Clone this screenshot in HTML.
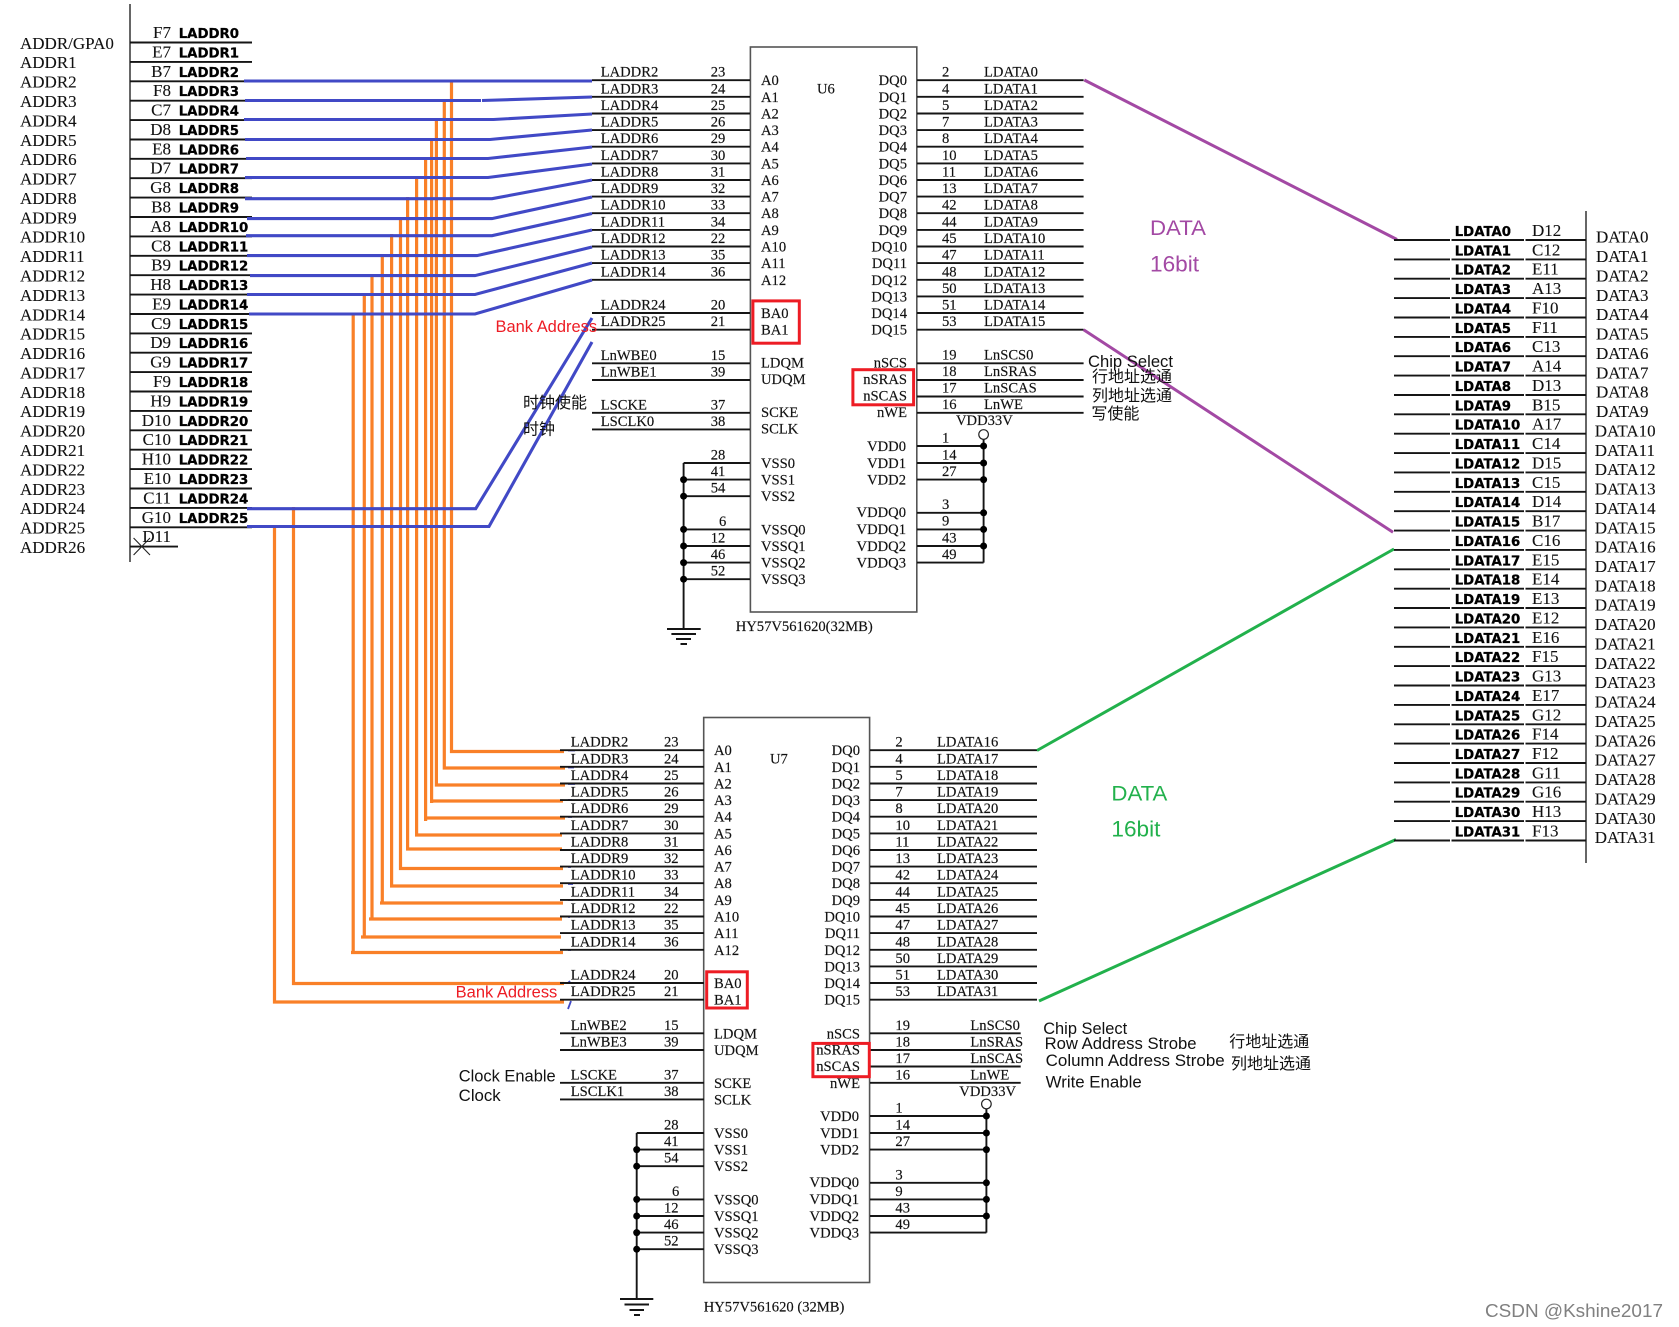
<!DOCTYPE html>
<html><head><meta charset="utf-8"><title>SDRAM schematic</title>
<style>
html,body{margin:0;padding:0;background:#fff}
svg{display:block}
text{fill:#111;white-space:pre}
.s text,text.s{font:14.6px "Liberation Serif",serif;stroke:#111;stroke-width:.15}
.p text{font:17px "Liberation Serif",serif;stroke:#111;stroke-width:.1}
.e text{text-anchor:end}
.b text{font:bold 13.3px "DejaVu Sans",sans-serif;fill:#000;stroke:#000;stroke-width:.3}
.a{font-family:"Liberation Sans","Noto Sans CJK SC",sans-serif}
.c{font-family:"Noto Sans CJK SC",sans-serif;font-size:16px}
.k{fill:none;stroke:#151515;stroke-width:1.9}
</style></head><body>
<svg xmlns="http://www.w3.org/2000/svg" width="1679" height="1327" viewBox="0 0 1679 1327">
<rect width="1679" height="1327" fill="#fff"/>

<!-- left connector -->
<path d="M130 4V562" fill="none" stroke="#555" stroke-width="1.8"/>
<path class="k" d="M130 42.5H252M130 61.9H252M130 81.3H252M130 100.7H252M130 120.1H252M130 139.5H252M130 158.8H252M130 178.2H252M130 197.6H252M130 217H252M130 236.4H252M130 255.8H252M130 275.2H252M130 294.6H252M130 314H252M130 333.4H252M130 352.7H252M130 372.1H252M130 391.5H252M130 410.9H252M130 430.3H252M130 449.7H252M130 469.1H252M130 488.5H252M130 507.9H252M130 527.3H252M130 546.6H178"/>
<path d="M133.6 538L150 555M133.6 555L150 538" fill="none" stroke="#222" stroke-width="1.1"/>
<g class="p">
<text x="20" y="48.8">ADDR/GPA0</text><text x="20" y="68.2">ADDR1</text><text x="20" y="87.6">ADDR2</text><text x="20" y="107">ADDR3</text><text x="20" y="126.4">ADDR4</text><text x="20" y="145.8">ADDR5</text><text x="20" y="165.1">ADDR6</text><text x="20" y="184.5">ADDR7</text><text x="20" y="203.9">ADDR8</text><text x="20" y="223.3">ADDR9</text><text x="20" y="242.7">ADDR10</text><text x="20" y="262.1">ADDR11</text><text x="20" y="281.5">ADDR12</text><text x="20" y="300.9">ADDR13</text><text x="20" y="320.3">ADDR14</text><text x="20" y="339.7">ADDR15</text><text x="20" y="359">ADDR16</text><text x="20" y="378.4">ADDR17</text><text x="20" y="397.8">ADDR18</text><text x="20" y="417.2">ADDR19</text><text x="20" y="436.6">ADDR20</text><text x="20" y="456">ADDR21</text><text x="20" y="475.4">ADDR22</text><text x="20" y="494.8">ADDR23</text><text x="20" y="514.2">ADDR24</text><text x="20" y="533.6">ADDR25</text><text x="20" y="552.9">ADDR26</text>
</g>
<g class="p e">
<text x="171" y="38">F7</text><text x="171" y="57.4">E7</text><text x="171" y="76.8">B7</text><text x="171" y="96.2">F8</text><text x="171" y="115.6">C7</text><text x="171" y="135">D8</text><text x="171" y="154.3">E8</text><text x="171" y="173.7">D7</text><text x="171" y="193.1">G8</text><text x="171" y="212.5">B8</text><text x="171" y="231.9">A8</text><text x="171" y="251.3">C8</text><text x="171" y="270.7">B9</text><text x="171" y="290.1">H8</text><text x="171" y="309.5">E9</text><text x="171" y="328.9">C9</text><text x="171" y="348.2">D9</text><text x="171" y="367.6">G9</text><text x="171" y="387">F9</text><text x="171" y="406.4">H9</text><text x="171" y="425.8">D10</text><text x="171" y="445.2">C10</text><text x="171" y="464.6">H10</text><text x="171" y="484">E10</text><text x="171" y="503.4">C11</text><text x="171" y="522.8">G10</text><text x="171" y="542.1">D11</text>
</g>
<g class="b">
<text x="178.7" y="38">LADDR0</text><text x="178.7" y="57.4">LADDR1</text><text x="178.7" y="76.8">LADDR2</text><text x="178.7" y="96.2">LADDR3</text><text x="178.7" y="115.6">LADDR4</text><text x="178.7" y="135">LADDR5</text><text x="178.7" y="154.3">LADDR6</text><text x="178.7" y="173.7">LADDR7</text><text x="178.7" y="193.1">LADDR8</text><text x="178.7" y="212.5">LADDR9</text><text x="178.7" y="231.9">LADDR10</text><text x="178.7" y="251.3">LADDR11</text><text x="178.7" y="270.7">LADDR12</text><text x="178.7" y="290.1">LADDR13</text><text x="178.7" y="309.5">LADDR14</text><text x="178.7" y="328.9">LADDR15</text><text x="178.7" y="348.2">LADDR16</text><text x="178.7" y="367.6">LADDR17</text><text x="178.7" y="387">LADDR18</text><text x="178.7" y="406.4">LADDR19</text><text x="178.7" y="425.8">LADDR20</text><text x="178.7" y="445.2">LADDR21</text><text x="178.7" y="464.6">LADDR22</text><text x="178.7" y="484">LADDR23</text><text x="178.7" y="503.4">LADDR24</text><text x="178.7" y="522.8">LADDR25</text>
</g>

<!-- orange bus -->
<path fill="none" stroke="#f98028" stroke-width="3.2" d="M451.5 80V751.5H564M444.3 99V768H565M436.4 118.5V785H565M431.6 138V803M431.6 801H563M425.6 157V821M425.6 818H565M416.6 176V835H562M407.6 197V849H562M400.5 217V868.5H563M391.6 234V886H563M382.3 254V903H563M382.3 903H380M372 274V919H562M372 919H369M364.3 293V937H561M364.3 937H361M353.2 312.5V952.5H563M353.2 952.5H351M293.5 507V983.5H564M274.5 526V1002H564"/>

<!-- blue bus -->
<path fill="none" stroke="#4149c6" stroke-width="3.1" d="M244 81H592M245 100.5H481M482 100.5L592 97M244 119.5H493.5L592 114M245 139.5H490L592 130M246 158.5H488L592 147M245 177.5H488L592 164M245 198.7H492L592 180M247 218.6H492L592 197M246 235.7H492L592 213.5M247 255.6H477L592 230M250 275.6H475L592 247M247 294.5H475L592 263M249 314H475L592 280M247 508.7H475.7L592 318M247 526.5H489L592 342"/>
<path fill="none" stroke="#4149c6" stroke-width="1.8" d="M568 750.5H575M568 767.5H574M568 784H575M568 800H572M568 817H572M568 850H574M568 867H571M568 884H573M568 900H573M568 917H570M568 950H571M568 983L570 981M568 1009L571 1001"/>

<!-- U6 -->
<rect x="750.4" y="47" width="166.4" height="565" fill="none" stroke="#555" stroke-width="1.6"/>
<path class="k" d="M592 80.2H750M592 96.8H750M592 113.5H750M592 130.1H750M592 146.7H750M592 163.4H750M592 180H750M592 196.6H750M592 213.2H750M592 229.9H750M592 246.5H750M592 263.1H750M592 279.8H750M592 313H750M592 329.7H750M592 363.3H750M592 380H750M592 412.8H750M592 429.4H750M683.6 463H750M683.6 479.6H750M683.6 496.2H750M683.6 529.4H750M683.6 546H750M683.6 562.6H750M683.6 579.2H750M917 80.2H1083.6M917 96.8H1083.6M917 113.5H1083.6M917 130.1H1083.6M917 146.7H1083.6M917 163.4H1083.6M917 180H1083.6M917 196.6H1083.6M917 213.2H1083.6M917 229.9H1083.6M917 246.5H1083.6M917 263.1H1083.6M917 279.8H1083.6M917 296.4H1083.6M917 313H1083.6M917 329.7H1083.6M917 363.3H1083.6M917 380H1083.6M917 396.5H1083.6M917 412.8H1083.6M917 446H983.6M917 463H983.6M917 479.6H983.6M917 512.8H983.6M917 529.4H983.6M917 546H983.6M917 562.6H983.6M983.6 439.5V562.6M683.6 463V629M667 629H700.7M671.4 634H696M676 639H691M680.5 644H687"/>
<circle cx="983.6" cy="434.5" r="4.8" fill="#fff" stroke="#222" stroke-width="1.2"/>
<g fill="#000"><circle cx="983.6" cy="446" r="3.5"/><circle cx="983.6" cy="463" r="3.5"/><circle cx="983.6" cy="479.6" r="3.5"/><circle cx="983.6" cy="512.8" r="3.5"/><circle cx="983.6" cy="529.4" r="3.5"/><circle cx="983.6" cy="546" r="3.5"/><circle cx="683.6" cy="479.6" r="3.5"/><circle cx="683.6" cy="496.2" r="3.5"/><circle cx="683.6" cy="529.4" r="3.5"/><circle cx="683.6" cy="546" r="3.5"/><circle cx="683.6" cy="562.6" r="3.5"/><circle cx="683.6" cy="579.2" r="3.5"/></g>
<g class="s">
<text x="600.7" y="76.7">LADDR2</text><text x="600.7" y="93.3">LADDR3</text><text x="600.7" y="110">LADDR4</text><text x="600.7" y="126.6">LADDR5</text><text x="600.7" y="143.2">LADDR6</text><text x="600.7" y="159.9">LADDR7</text><text x="600.7" y="176.5">LADDR8</text><text x="600.7" y="193.1">LADDR9</text><text x="600.7" y="209.7">LADDR10</text><text x="600.7" y="226.4">LADDR11</text><text x="600.7" y="243">LADDR12</text><text x="600.7" y="259.6">LADDR13</text><text x="600.7" y="276.3">LADDR14</text><text x="600.7" y="309.5">LADDR24</text><text x="600.7" y="326.2">LADDR25</text><text x="600.7" y="359.8">LnWBE0</text><text x="600.7" y="376.5">LnWBE1</text><text x="600.7" y="409.3">LSCKE</text><text x="600.7" y="425.9">LSCLK0</text>
<text x="710.7" y="76.7">23</text><text x="710.7" y="93.3">24</text><text x="710.7" y="110">25</text><text x="710.7" y="126.6">26</text><text x="710.7" y="143.2">29</text><text x="710.7" y="159.9">30</text><text x="710.7" y="176.5">31</text><text x="710.7" y="193.1">32</text><text x="710.7" y="209.7">33</text><text x="710.7" y="226.4">34</text><text x="710.7" y="243">22</text><text x="710.7" y="259.6">35</text><text x="710.7" y="276.3">36</text><text x="710.7" y="309.5">20</text><text x="710.7" y="326.2">21</text><text x="710.7" y="359.8">15</text><text x="710.7" y="376.5">39</text><text x="710.7" y="409.3">37</text><text x="710.7" y="425.9">38</text><text x="710.7" y="459.5">28</text><text x="710.7" y="476.1">41</text><text x="710.7" y="492.7">54</text><text x="719" y="525.9">6</text><text x="710.7" y="542.5">12</text><text x="710.7" y="559.1">46</text><text x="710.7" y="575.7">52</text>
<text x="761" y="85.2">A0</text><text x="761" y="101.8">A1</text><text x="761" y="118.5">A2</text><text x="761" y="135.1">A3</text><text x="761" y="151.7">A4</text><text x="761" y="168.4">A5</text><text x="761" y="185">A6</text><text x="761" y="201.6">A7</text><text x="761" y="218.2">A8</text><text x="761" y="234.9">A9</text><text x="761" y="251.5">A10</text><text x="761" y="268.1">A11</text><text x="761" y="284.8">A12</text><text x="761" y="318">BA0</text><text x="761" y="334.7">BA1</text><text x="761" y="367.3">LDQM</text><text x="761" y="384">UDQM</text><text x="761" y="416.8">SCKE</text><text x="761" y="433.4">SCLK</text><text x="761" y="468">VSS0</text><text x="761" y="484.6">VSS1</text><text x="761" y="501.2">VSS2</text><text x="761" y="534.4">VSSQ0</text><text x="761" y="551">VSSQ1</text><text x="761" y="567.6">VSSQ2</text><text x="761" y="584.2">VSSQ3</text>
<text x="817" y="93.3">U6</text>
<text x="735.7" y="631">HY57V561620(32MB)</text>
<text x="942" y="76.7">2</text><text x="942" y="93.3">4</text><text x="942" y="110">5</text><text x="942" y="126.6">7</text><text x="942" y="143.2">8</text><text x="942" y="159.9">10</text><text x="942" y="176.5">11</text><text x="942" y="193.1">13</text><text x="942" y="209.7">42</text><text x="942" y="226.4">44</text><text x="942" y="243">45</text><text x="942" y="259.6">47</text><text x="942" y="276.3">48</text><text x="942" y="292.9">50</text><text x="942" y="309.5">51</text><text x="942" y="326.2">53</text><text x="942" y="359.3">19</text><text x="942" y="376">18</text><text x="942" y="392.5">17</text><text x="942" y="408.8">16</text><text x="942" y="442.5">1</text><text x="942" y="459.5">14</text><text x="942" y="476.1">27</text><text x="942" y="508.8">3</text><text x="942" y="525.4">9</text><text x="942" y="542.5">43</text><text x="942" y="559.1">49</text>
<text x="984" y="76.7">LDATA0</text><text x="984" y="93.3">LDATA1</text><text x="984" y="110">LDATA2</text><text x="984" y="126.6">LDATA3</text><text x="984" y="143.2">LDATA4</text><text x="984" y="159.9">LDATA5</text><text x="984" y="176.5">LDATA6</text><text x="984" y="193.1">LDATA7</text><text x="984" y="209.7">LDATA8</text><text x="984" y="226.4">LDATA9</text><text x="984" y="243">LDATA10</text><text x="984" y="259.6">LDATA11</text><text x="984" y="276.3">LDATA12</text><text x="984" y="292.9">LDATA13</text><text x="984" y="309.5">LDATA14</text><text x="984" y="326.2">LDATA15</text><text x="984" y="359.3">LnSCS0</text><text x="984" y="376">LnSRAS</text><text x="984" y="392.5">LnSCAS</text><text x="984" y="408.8">LnWE</text>
<text x="956" y="425">VDD33V</text>
</g>
<g class="s e">
<text x="907" y="85.2">DQ0</text><text x="907" y="101.8">DQ1</text><text x="907" y="118.5">DQ2</text><text x="907" y="135.1">DQ3</text><text x="907" y="151.7">DQ4</text><text x="907" y="168.4">DQ5</text><text x="907" y="185">DQ6</text><text x="907" y="201.6">DQ7</text><text x="907" y="218.2">DQ8</text><text x="907" y="234.9">DQ9</text><text x="907" y="251.5">DQ10</text><text x="907" y="268.1">DQ11</text><text x="907" y="284.8">DQ12</text><text x="907" y="301.4">DQ13</text><text x="907" y="318">DQ14</text><text x="907" y="334.7">DQ15</text><text x="907" y="367.3">nSCS</text><text x="907" y="384">nSRAS</text><text x="907" y="400.5">nSCAS</text><text x="907" y="416.8">nWE</text><text x="906" y="451">VDD0</text><text x="906" y="468">VDD1</text><text x="906" y="484.6">VDD2</text><text x="906" y="516.8">VDDQ0</text><text x="906" y="533.8">VDDQ1</text><text x="906" y="551">VDDQ2</text><text x="906" y="567.6">VDDQ3</text>
</g>
<rect x="752.9" y="300.9" width="46.4" height="42.3" fill="none" stroke="#ed1c24" stroke-width="3"/>
<rect x="852.9" y="369.7" width="60.7" height="35.1" fill="none" stroke="#ed1c24" stroke-width="3"/>

<!-- U7 -->
<rect x="703.7" y="717.5" width="165.9" height="565" fill="none" stroke="#555" stroke-width="1.6"/>
<path class="k" d="M560 750.2H704M560 766.8H704M560 783.5H704M560 800.1H704M560 816.7H704M560 833.4H704M560 850H704M560 866.6H704M560 883.2H704M560 899.9H704M560 916.5H704M560 933.1H704M560 949.8H704M560 983H704M560 999.7H704M560 1033.3H704M560 1050H704M560 1082.8H704M560 1099.4H704M636.7 1133H704M636.7 1149.6H704M636.7 1166.2H704M636.7 1199.4H704M636.7 1216H704M636.7 1232.6H704M636.7 1249.2H704M870 750.2H1037M870 766.8H1037M870 783.5H1037M870 800.1H1037M870 816.7H1037M870 833.4H1037M870 850H1037M870 866.6H1037M870 883.2H1037M870 899.9H1037M870 916.5H1037M870 933.1H1037M870 949.8H1037M870 966.4H1037M870 983H1037M870 999.7H1037M870 1033.3H1020.7M870 1050H1020.7M870 1066.5H1020.7M870 1082.8H1020.7M870 1116H986.4M870 1133H986.4M870 1149.6H986.4M870 1182.8H986.4M870 1199.4H986.4M870 1216H986.4M870 1232.6H986.4M986.4 1109V1232.6M636.7 1133V1299M620 1299H653.3M624.5 1304.5H649M629.5 1310H644M634 1315H640"/>
<circle cx="986.4" cy="1104" r="4.8" fill="#fff" stroke="#222" stroke-width="1.2"/>
<g fill="#000"><circle cx="986.4" cy="1116" r="3.5"/><circle cx="986.4" cy="1133" r="3.5"/><circle cx="986.4" cy="1149.6" r="3.5"/><circle cx="986.4" cy="1182.8" r="3.5"/><circle cx="986.4" cy="1199.4" r="3.5"/><circle cx="986.4" cy="1216" r="3.5"/><circle cx="636.7" cy="1149.6" r="3.5"/><circle cx="636.7" cy="1166.2" r="3.5"/><circle cx="636.7" cy="1199.4" r="3.5"/><circle cx="636.7" cy="1216" r="3.5"/><circle cx="636.7" cy="1232.6" r="3.5"/><circle cx="636.7" cy="1249.2" r="3.5"/></g>
<g class="s" transform="translate(-47 670)">
<text x="617.7" y="76.7">LADDR2</text><text x="617.7" y="93.3">LADDR3</text><text x="617.7" y="110">LADDR4</text><text x="617.7" y="126.6">LADDR5</text><text x="617.7" y="143.2">LADDR6</text><text x="617.7" y="159.9">LADDR7</text><text x="617.7" y="176.5">LADDR8</text><text x="617.7" y="193.1">LADDR9</text><text x="617.7" y="209.7">LADDR10</text><text x="617.7" y="226.4">LADDR11</text><text x="617.7" y="243">LADDR12</text><text x="617.7" y="259.6">LADDR13</text><text x="617.7" y="276.3">LADDR14</text><text x="617.7" y="309.5">LADDR24</text><text x="617.7" y="326.2">LADDR25</text><text x="617.7" y="359.8">LnWBE2</text><text x="617.7" y="376.5">LnWBE3</text><text x="617.7" y="409.3">LSCKE</text><text x="617.7" y="425.9">LSCLK1</text>
<text x="711" y="76.7">23</text><text x="711" y="93.3">24</text><text x="711" y="110">25</text><text x="711" y="126.6">26</text><text x="711" y="143.2">29</text><text x="711" y="159.9">30</text><text x="711" y="176.5">31</text><text x="711" y="193.1">32</text><text x="711" y="209.7">33</text><text x="711" y="226.4">34</text><text x="711" y="243">22</text><text x="711" y="259.6">35</text><text x="711" y="276.3">36</text><text x="711" y="309.5">20</text><text x="711" y="326.2">21</text><text x="711" y="359.8">15</text><text x="711" y="376.5">39</text><text x="711" y="409.3">37</text><text x="711" y="425.9">38</text><text x="711" y="459.5">28</text><text x="711" y="476.1">41</text><text x="711" y="492.7">54</text><text x="719" y="525.9">6</text><text x="711" y="542.5">12</text><text x="711" y="559.1">46</text><text x="711" y="575.7">52</text>
<text x="761" y="85.2">A0</text><text x="761" y="101.8">A1</text><text x="761" y="118.5">A2</text><text x="761" y="135.1">A3</text><text x="761" y="151.7">A4</text><text x="761" y="168.4">A5</text><text x="761" y="185">A6</text><text x="761" y="201.6">A7</text><text x="761" y="218.2">A8</text><text x="761" y="234.9">A9</text><text x="761" y="251.5">A10</text><text x="761" y="268.1">A11</text><text x="761" y="284.8">A12</text><text x="761" y="318">BA0</text><text x="761" y="334.7">BA1</text><text x="761" y="368.3">LDQM</text><text x="761" y="385">UDQM</text><text x="761" y="417.8">SCKE</text><text x="761" y="434.4">SCLK</text><text x="761" y="468">VSS0</text><text x="761" y="484.6">VSS1</text><text x="761" y="501.2">VSS2</text><text x="761" y="534.4">VSSQ0</text><text x="761" y="551">VSSQ1</text><text x="761" y="567.6">VSSQ2</text><text x="761" y="584.2">VSSQ3</text>
<text x="817" y="93.5">U7</text>
<text x="750.7" y="641.6">HY57V561620 (32MB)</text>
<text x="942.4" y="76.7">2</text><text x="942.4" y="93.3">4</text><text x="942.4" y="110">5</text><text x="942.4" y="126.6">7</text><text x="942.4" y="143.2">8</text><text x="942.4" y="159.9">10</text><text x="942.4" y="176.5">11</text><text x="942.4" y="193.1">13</text><text x="942.4" y="209.7">42</text><text x="942.4" y="226.4">44</text><text x="942.4" y="243">45</text><text x="942.4" y="259.6">47</text><text x="942.4" y="276.3">48</text><text x="942.4" y="292.9">50</text><text x="942.4" y="309.5">51</text><text x="942.4" y="326.2">53</text><text x="942.4" y="359.8">19</text><text x="942.4" y="376.5">18</text><text x="942.4" y="393">17</text><text x="942.4" y="409.3">16</text><text x="942.4" y="442.5">1</text><text x="942.4" y="459.5">14</text><text x="942.4" y="476.1">27</text><text x="942.4" y="509.3">3</text><text x="942.4" y="525.9">9</text><text x="942.4" y="542.5">43</text><text x="942.4" y="559.1">49</text>
<text x="984" y="76.7">LDATA16</text><text x="984" y="93.3">LDATA17</text><text x="984" y="110">LDATA18</text><text x="984" y="126.6">LDATA19</text><text x="984" y="143.2">LDATA20</text><text x="984" y="159.9">LDATA21</text><text x="984" y="176.5">LDATA22</text><text x="984" y="193.1">LDATA23</text><text x="984" y="209.7">LDATA24</text><text x="984" y="226.4">LDATA25</text><text x="984" y="243">LDATA26</text><text x="984" y="259.6">LDATA27</text><text x="984" y="276.3">LDATA28</text><text x="984" y="292.9">LDATA29</text><text x="984" y="309.5">LDATA30</text><text x="984" y="326.2">LDATA31</text><text x="1017.4" y="359.8">LnSCS0</text><text x="1017.4" y="376.5">LnSRAS</text><text x="1017.4" y="393">LnSCAS</text><text x="1017.4" y="409.3">LnWE</text>
<text x="1006.3" y="425.8">VDD33V</text>
</g>
<g class="s e" transform="translate(-47 670)">
<text x="907" y="85.2">DQ0</text><text x="907" y="101.8">DQ1</text><text x="907" y="118.5">DQ2</text><text x="907" y="135.1">DQ3</text><text x="907" y="151.7">DQ4</text><text x="907" y="168.4">DQ5</text><text x="907" y="185">DQ6</text><text x="907" y="201.6">DQ7</text><text x="907" y="218.2">DQ8</text><text x="907" y="234.9">DQ9</text><text x="907" y="251.5">DQ10</text><text x="907" y="268.1">DQ11</text><text x="907" y="284.8">DQ12</text><text x="907" y="301.4">DQ13</text><text x="907" y="318">DQ14</text><text x="907" y="334.7">DQ15</text><text x="907" y="368.3">nSCS</text><text x="907" y="384.4">nSRAS</text><text x="907" y="400.8">nSCAS</text><text x="907" y="417.8">nWE</text><text x="906" y="451">VDD0</text><text x="906" y="468">VDD1</text><text x="906" y="484.6">VDD2</text><text x="906" y="517.2">VDDQ0</text><text x="906" y="534">VDDQ1</text><text x="906" y="551">VDDQ2</text><text x="906" y="567.6">VDDQ3</text>
</g>
<rect x="706.7" y="971.8" width="40.6" height="36.2" fill="none" stroke="#ed1c24" stroke-width="3"/>
<rect x="812.9" y="1043.4" width="56.4" height="33.3" fill="none" stroke="#ed1c24" stroke-width="3"/>

<!-- data diagonals -->
<path fill="none" stroke="#a349a4" stroke-width="3" d="M1084.3 80L1397 239.5M1083.6 329.7L1393 532.3"/>
<path fill="none" stroke="#22b14c" stroke-width="3" d="M1037 750.5L1394 549M1039 1001L1396 839.5"/>

<!-- right connector -->
<path d="M1586 211V863" fill="none" stroke="#555" stroke-width="1.8"/>
<path class="k" stroke-dasharray="56 1.5 72.5 1.5 62" d="M1394 240H1586M1394 259.4H1586M1394 278.7H1586M1394 298.1H1586M1394 317.5H1586M1394 336.9H1586M1394 356.2H1586M1394 375.6H1586M1394 395H1586M1394 414.3H1586M1394 433.7H1586M1394 453.1H1586M1394 472.4H1586M1394 491.8H1586M1394 511.2H1586M1394 530.6H1586M1394 549.9H1586M1394 569.3H1586M1394 588.7H1586M1394 608H1586M1394 627.4H1586M1394 646.8H1586M1394 666.1H1586M1394 685.5H1586M1394 704.9H1586M1394 724.3H1586M1394 743.6H1586M1394 763H1586M1394 782.4H1586M1394 801.7H1586M1394 821.1H1586M1394 840.5H1586"/>
<g class="b">
<text x="1454.7" y="236">LDATA0</text><text x="1454.7" y="255.4">LDATA1</text><text x="1454.7" y="274.7">LDATA2</text><text x="1454.7" y="294.1">LDATA3</text><text x="1454.7" y="313.5">LDATA4</text><text x="1454.7" y="332.9">LDATA5</text><text x="1454.7" y="352.2">LDATA6</text><text x="1454.7" y="371.6">LDATA7</text><text x="1454.7" y="391">LDATA8</text><text x="1454.7" y="410.3">LDATA9</text><text x="1454.7" y="429.7">LDATA10</text><text x="1454.7" y="449.1">LDATA11</text><text x="1454.7" y="468.4">LDATA12</text><text x="1454.7" y="487.8">LDATA13</text><text x="1454.7" y="507.2">LDATA14</text><text x="1454.7" y="526.6">LDATA15</text><text x="1454.7" y="545.9">LDATA16</text><text x="1454.7" y="565.3">LDATA17</text><text x="1454.7" y="584.7">LDATA18</text><text x="1454.7" y="604">LDATA19</text><text x="1454.7" y="623.4">LDATA20</text><text x="1454.7" y="642.8">LDATA21</text><text x="1454.7" y="662.1">LDATA22</text><text x="1454.7" y="681.5">LDATA23</text><text x="1454.7" y="700.9">LDATA24</text><text x="1454.7" y="720.3">LDATA25</text><text x="1454.7" y="739.6">LDATA26</text><text x="1454.7" y="759">LDATA27</text><text x="1454.7" y="778.4">LDATA28</text><text x="1454.7" y="797.7">LDATA29</text><text x="1454.7" y="817.1">LDATA30</text><text x="1454.7" y="836.5">LDATA31</text>
</g>
<g class="p">
<text x="1532" y="236">D12</text><text x="1532" y="255.4">C12</text><text x="1532" y="274.7">E11</text><text x="1532" y="294.1">A13</text><text x="1532" y="313.5">F10</text><text x="1532" y="332.9">F11</text><text x="1532" y="352.2">C13</text><text x="1532" y="371.6">A14</text><text x="1532" y="391">D13</text><text x="1532" y="410.3">B15</text><text x="1532" y="429.7">A17</text><text x="1532" y="449.1">C14</text><text x="1532" y="468.4">D15</text><text x="1532" y="487.8">C15</text><text x="1532" y="507.2">D14</text><text x="1532" y="526.6">B17</text><text x="1532" y="545.9">C16</text><text x="1532" y="565.3">E15</text><text x="1532" y="584.7">E14</text><text x="1532" y="604">E13</text><text x="1532" y="623.4">E12</text><text x="1532" y="642.8">E16</text><text x="1532" y="662.1">F15</text><text x="1532" y="681.5">G13</text><text x="1532" y="700.9">E17</text><text x="1532" y="720.3">G12</text><text x="1532" y="739.6">F14</text><text x="1532" y="759">F12</text><text x="1532" y="778.4">G11</text><text x="1532" y="797.7">G16</text><text x="1532" y="817.1">H13</text><text x="1532" y="836.5">F13</text>
<text x="1596" y="242.7">DATA0</text><text x="1596" y="262.1">DATA1</text><text x="1596" y="281.4">DATA2</text><text x="1596" y="300.8">DATA3</text><text x="1596" y="320.2">DATA4</text><text x="1596" y="339.6">DATA5</text><text x="1596" y="358.9">DATA6</text><text x="1596" y="378.3">DATA7</text><text x="1596" y="397.7">DATA8</text><text x="1596" y="417">DATA9</text><text x="1594.7" y="436.4">DATA10</text><text x="1594.7" y="455.8">DATA11</text><text x="1594.7" y="475.1">DATA12</text><text x="1594.7" y="494.5">DATA13</text><text x="1594.7" y="513.9">DATA14</text><text x="1594.7" y="533.3">DATA15</text><text x="1594.7" y="552.6">DATA16</text><text x="1594.7" y="572">DATA17</text><text x="1594.7" y="591.4">DATA18</text><text x="1594.7" y="610.7">DATA19</text><text x="1594.7" y="630.1">DATA20</text><text x="1594.7" y="649.5">DATA21</text><text x="1594.7" y="668.8">DATA22</text><text x="1594.7" y="688.2">DATA23</text><text x="1594.7" y="707.6">DATA24</text><text x="1594.7" y="727">DATA25</text><text x="1594.7" y="746.3">DATA26</text><text x="1594.7" y="765.7">DATA27</text><text x="1594.7" y="785.1">DATA28</text><text x="1594.7" y="804.4">DATA29</text><text x="1594.7" y="823.8">DATA30</text><text x="1594.7" y="843.2">DATA31</text>
</g>

<!-- annotations -->
<text class="a" x="1150" y="235" font-size="21" textLength="56" lengthAdjust="spacingAndGlyphs" style="fill:#a349a4">DATA</text>
<text class="a" x="1150" y="271.5" font-size="22" textLength="49" lengthAdjust="spacingAndGlyphs" style="fill:#a349a4">16bit</text>
<text class="a" x="1111.4" y="800.4" font-size="21" textLength="56" lengthAdjust="spacingAndGlyphs" style="fill:#22b14c">DATA</text>
<text class="a" x="1111.4" y="836.7" font-size="22" textLength="49" lengthAdjust="spacingAndGlyphs" style="fill:#22b14c">16bit</text>
<text class="a" x="495.5" y="332" font-size="16.3" textLength="101.6" lengthAdjust="spacingAndGlyphs" style="fill:#ed1c24">Bank Address</text>
<text class="a" x="455.7" y="997.5" font-size="16.3" textLength="101.6" lengthAdjust="spacingAndGlyphs" style="fill:#ed1c24">Bank Address</text>
<text class="c" x="523" y="408">时钟使能</text>
<text class="c" x="523" y="434.7">时钟</text>
<text class="a" x="1088" y="367" font-size="16.5" textLength="85" lengthAdjust="spacingAndGlyphs">Chip Select</text>
<text class="c" x="1092" y="382">行地址选通</text>
<text class="c" x="1092" y="401">列地址选通</text>
<text class="c" x="1091.4" y="419">写使能</text>
<text class="a" x="1043.2" y="1033.8" font-size="16.5" textLength="84" lengthAdjust="spacingAndGlyphs">Chip Select</text>
<text class="a" x="1044.6" y="1049" font-size="16.5" textLength="152" lengthAdjust="spacingAndGlyphs">Row Address Strobe</text>
<text class="a" x="1045.7" y="1065.8" font-size="16.5" textLength="179" lengthAdjust="spacingAndGlyphs">Column Address Strobe</text>
<text class="a" x="1045.7" y="1087.4" font-size="16.5" textLength="96" lengthAdjust="spacingAndGlyphs">Write Enable</text>
<text class="c" x="1229.3" y="1047">行地址选通</text>
<text class="c" x="1231" y="1069">列地址选通</text>
<text class="a" x="458.7" y="1081.7" font-size="16.5" textLength="97" lengthAdjust="spacingAndGlyphs">Clock Enable</text>
<text class="a" x="458.7" y="1100.8" font-size="16.5" textLength="42" lengthAdjust="spacingAndGlyphs">Clock</text>
<text class="a" x="1485" y="1317" font-size="18" textLength="178" lengthAdjust="spacingAndGlyphs" style="fill:#808080">CSDN @Kshine2017</text>
</svg>
</body></html>
